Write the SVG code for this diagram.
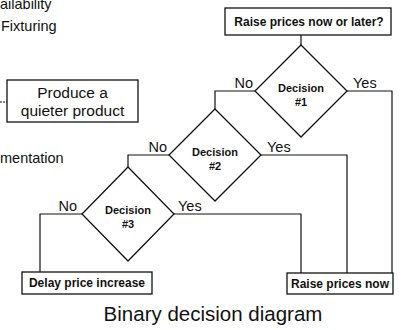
<svg xmlns="http://www.w3.org/2000/svg" width="407" height="330" viewBox="0 0 407 330">
  <style>
    .box { fill: #fff; stroke: #111; stroke-width: 1.3; }
    .dia { fill: #fff; stroke: #111; stroke-width: 1.3; }
    .wire { fill: none; stroke: #111; stroke-width: 1.2; }
    .t { font-family: "Liberation Sans", Arial, sans-serif; fill: #111; }
    .lbl { font-size: 14.5px; }
    .bx { font-size: 12px; font-weight: bold; }
    .dec { font-size: 11px; font-weight: bold; text-anchor: middle; }
    .side { font-size: 14.5px; }
  </style>
  <rect width="407" height="330" fill="#fff"/>

  <!-- partially visible side notes -->
  <g id="side-notes" class="t side">
    <text x="0" y="9">ailability</text>
    <text x="1" y="31">Fixturing</text>
    <text x="0" y="163">mentation</text>
  </g>

  <!-- connectors -->
  <g id="connectors" class="wire">
    <path d="M0 102 H7" stroke-dasharray="2 1"/>
    <path d="M301 35 V45"/>
    <path d="M255 91 H215 V109"/>
    <path d="M347 91 H392 V273"/>
    <path d="M169 155 H128 V167"/>
    <path d="M261 155 H347 V273"/>
    <path d="M82 214 H40 V272"/>
    <path d="M174 214 H301 V273"/>
  </g>

  <g id="produce-quieter" class="t">
    <rect class="box" x="7" y="80" width="131" height="42"/>
    <text x="72.5" y="98" font-size="15.5" text-anchor="middle">Produce a</text>
    <text x="72.5" y="115.5" font-size="15.5" text-anchor="middle">quieter product</text>
  </g>

  <g id="question" class="t">
    <rect class="box" x="225" y="8" width="166" height="27"/>
    <text class="bx" x="309" y="26" font-size="12.4" text-anchor="middle">Raise prices now or later?</text>
  </g>

  <g id="decision-1" class="t">
    <polygon class="dia" points="301,45 347,91 301,137 255,91"/>
    <text class="dec" x="301" y="92">Decision</text>
    <text class="dec" x="301" y="106">#1</text>
  </g>

  <g id="decision-2" class="t">
    <polygon class="dia" points="215,109 261,155 215,201 169,155"/>
    <text class="dec" x="215" y="156">Decision</text>
    <text class="dec" x="215" y="170">#2</text>
  </g>

  <g id="decision-3" class="t">
    <polygon class="dia" points="128,167 174,214 128,261 82,214"/>
    <text class="dec" x="128" y="214">Decision</text>
    <text class="dec" x="128" y="228">#3</text>
  </g>

  <g id="branch-labels" class="t lbl">
    <text x="253" y="88" text-anchor="end">No</text>
    <text x="353" y="88">Yes</text>
    <text x="167" y="152" text-anchor="end">No</text>
    <text x="267" y="152">Yes</text>
    <text x="77" y="211" text-anchor="end">No</text>
    <text x="178" y="211">Yes</text>
  </g>

  <g id="delay-increase" class="t">
    <rect class="box" x="22" y="272" width="130" height="22"/>
    <text class="bx" x="87" y="287" text-anchor="middle">Delay price increase</text>
  </g>

  <g id="raise-now" class="t">
    <rect class="box" x="287" y="273" width="106" height="21"/>
    <text class="bx" x="340" y="288" text-anchor="middle">Raise prices now</text>
  </g>

  <text id="caption" class="t" x="213" y="321" font-size="20.5" text-anchor="middle">Binary decision diagram</text>
</svg>
